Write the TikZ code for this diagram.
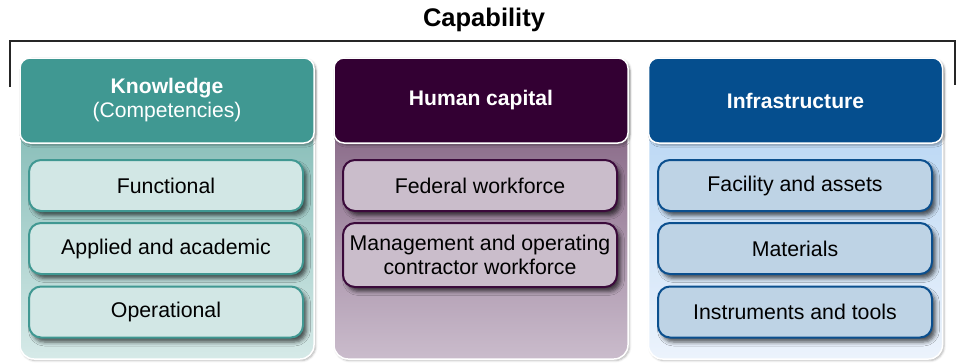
\documentclass[tikz,border=0pt]{standalone}
\usepackage{fontspec}
\setmainfont{Liberation Sans}
\usetikzlibrary{positioning, shadows.blur}
\definecolor{tealhead}{RGB}{64,152,146}
\definecolor{tealtop}{RGB}{112,176,170}
\definecolor{tealbot}{RGB}{214,234,232}
\definecolor{tealitem}{RGB}{210,231,229}
\definecolor{purphead}{RGB}{51,0,51}
\definecolor{purptop}{RGB}{118,82,116}
\definecolor{purpbot}{RGB}{202,188,204}
\definecolor{purpitem}{RGB}{202,189,203}
\definecolor{purpline}{RGB}{59,10,59}
\definecolor{bluehead}{RGB}{5,78,142}
\definecolor{bluetop}{RGB}{172,207,242}
\definecolor{bluebot}{RGB}{236,243,252}
\definecolor{blueitem}{RGB}{190,211,229}
\definecolor{blueline}{RGB}{11,79,142}
\newcommand{\itemfont}{\fontsize{21.3}{24}\selectfont}
\newcommand{\headfont}{\fontsize{21.1}{24}\selectfont}
\newcommand{\titlefont}{\fontsize{25.5}{28}\selectfont\bfseries}

\begin{document}
\begin{tikzpicture}[x=1pt,y=-1pt,
  panel/.style={draw=white, line width=1.5pt, rounded corners=14pt, minimum width=294pt, minimum height=301pt, inner sep=0pt,
    blur shadow={shadow xshift=1.5pt, shadow yshift=-1.5pt, shadow opacity=30}},
  head/.style={draw=white, line width=1.5pt, rounded corners=10pt, minimum width=294pt, minimum height=85pt, inner sep=0pt,
    text=white, font=\headfont, align=center},
  item/.style={line width=2pt, rounded corners=12pt, minimum width=274pt, minimum height=51pt, inner sep=0pt,
    font=\itemfont, align=center, blur shadow={shadow xshift=3.5pt, shadow yshift=-4.5pt, shadow opacity=65, shadow blur radius=4pt}}]
  \useasboundingbox (0,0) rectangle (959,362);

  % Title and bracket
  \node[font=\titlefont] (cap) at (484,20) {Capability};
  \draw[line width=2pt, black!85] (10,87) -- (10,40.5) -- (955,40.5) -- (955,85);

  % Knowledge
  \node[panel, top color=tealtop, bottom color=tealbot] (knowbody) at (167,208.5) {};
  \node[head, fill=tealhead, blur shadow={shadow xshift=2pt, shadow yshift=-2pt, shadow opacity=35}] (knowhead) at (167,100.5) {\textbf{Knowledge}\\(Competencies)};
  \node[item, draw=tealhead, fill=tealitem] (func) at (166,185.5) {Functional};
  \node[item, draw=tealhead, fill=tealitem] (appl) at (166,248.5) {Applied and academic};
  \node[item, draw=tealhead, fill=tealitem] (oper) at (166,312) {Operational};

  % Human capital
  \node[panel, top color=purptop, bottom color=purpbot] (humbody) at (481,208.5) {};
  \node[head, fill=purphead, blur shadow={shadow xshift=2pt, shadow yshift=-2pt, shadow opacity=35}] (humhead) at (481,100.5) {\textbf{Human capital}};
  \node[item, draw=purpline, fill=purpitem] (fed) at (480,185.5) {Federal workforce};
  \node[item, draw=purpline, fill=purpitem, minimum height=64pt] (mgmt) at (480,255) {Management and operating\\contractor workforce};

  % Infrastructure
  \node[panel, top color=bluetop, bottom color=bluebot] (infbody) at (795.5,208.5) {};
  \node[head, fill=bluehead, blur shadow={shadow xshift=2pt, shadow yshift=-2pt, shadow opacity=35}] (infhead) at (795.5,100.5) {\textbf{Infrastructure}};
  \node[item, draw=blueline, fill=blueitem] (facil) at (795,185.5) {Facility and assets};
  \node[item, draw=blueline, fill=blueitem] (mater) at (795,248.5) {Materials};
  \node[item, draw=blueline, fill=blueitem] (instr) at (795,312) {Instruments and tools};
\end{tikzpicture}
\end{document}
